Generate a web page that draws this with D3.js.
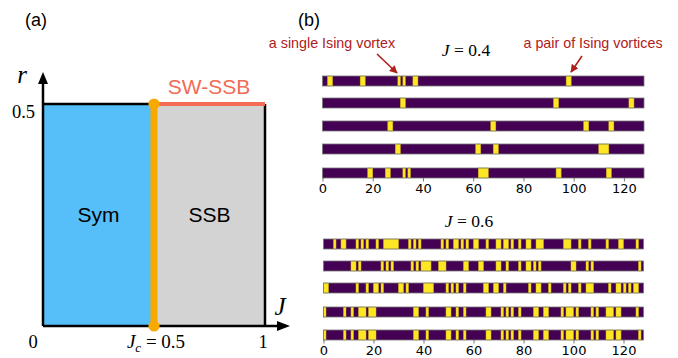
<!DOCTYPE html>
<html>
<head>
<meta charset="utf-8">
<script src="https://cdn.jsdelivr.net/npm/d3@7"></script>
<style>
  body { margin: 0; background: #fff; }
  svg { display: block; }
</style>
</head>
<body>
<svg id="chart" width="678" height="358"></svg>
<script>
// panel (a) phase diagram
const phases = [
  { name: 'Sym', j0: 0, j1: 0.5, color: '#56BEF8' },
  { name: 'SSB', j0: 0.5, j1: 1, color: '#D3D3D3' },
];
const rMax = 0.5;
const jc = 0.5;

// panel (b) yellow sites per chain, L = 128
const L = 128;
const xTicks = [0, 20, 40, 60, 80, 100, 120];
const chainsJ04 = [
  [2, 3, 15, 16, 30, 32, 36, 37, 97, 98],
  [31, 32, 92, 93, 122, 123],
  [26, 27, 67, 68, 104, 105, 114, 115],
  [29, 30, 61, 62, 68, 69, 110, 111, 112, 113],
  [18, 19, 25, 26, 32, 34, 62, 63, 64, 65, 93, 94, 113, 114],
];
const chainsJ06 = [
  [4, 7, 8, 13, 15, 17, 21, 24, 25, 26, 27, 28, 29, 34, 36, 38, 47, 49, 52, 53, 55, 57, 60, 61, 65, 69, 70, 72, 73, 75, 78, 81, 82, 85, 86, 87, 96, 97, 98, 102, 106, 113, 118, 119, 125],
  [11, 12, 14, 23, 25, 27, 35, 37, 39, 40, 41, 42, 46, 47, 48, 56, 57, 62, 63, 69, 70, 73, 78, 81, 82, 84, 86, 99, 100, 105, 107, 126],
  [0, 1, 13, 17, 20, 21, 23, 30, 31, 33, 40, 41, 42, 43, 49, 51, 53, 56, 64, 65, 68, 69, 72, 82, 85, 86, 90, 96, 98, 102, 105, 106, 107, 114, 117, 118, 120, 122, 124, 125],
  [0, 8, 11, 14, 15, 16, 18, 19, 20, 36, 37, 41, 49, 50, 53, 56, 65, 66, 71, 73, 75, 78, 84, 85, 88, 89, 95, 97, 98, 99, 101, 107, 109, 113, 114, 115, 117, 118, 125],
  [0, 8, 11, 14, 15, 16, 18, 19, 20, 36, 37, 41, 49, 50, 53, 56, 65, 66, 71, 73, 75, 78, 84, 85, 88, 89, 95, 97, 98, 99, 101, 107, 109, 113, 114, 115, 117, 118, 126],
];

const svg = d3.select('#chart');
const sans = '"Liberation Sans", Arial, sans-serif';
const serif = '"Liberation Serif", "Times New Roman", serif';

// ---------- (a) ----------
const xJ = d3.scaleLinear().domain([0, 1]).range([43, 265]);
const yR = d3.scaleLinear().domain([0, rMax]).range([326, 104]);
const a = svg.append('g');

a.selectAll('rect.phase')
  .data(phases)
  .enter()
  .append('rect')
  .attr('x', d => xJ(d.j0))
  .attr('y', yR(rMax))
  .attr('width', d => xJ(d.j1) - xJ(d.j0))
  .attr('height', yR(0) - yR(rMax))
  .attr('fill', d => d.color);

a.selectAll('text.phase')
  .data(phases)
  .enter()
  .append('text')
  .attr('x', d => xJ((d.j0 + d.j1) / 2))
  .attr('y', 222)
  .attr('text-anchor', 'middle')
  .attr('font-family', sans)
  .attr('font-size', 21)
  .text(d => d.name);

// box + axes
const black = (x1, y1, x2, y2) =>
  a.append('line')
    .attr('x1', x1).attr('y1', y1).attr('x2', x2).attr('y2', y2)
    .attr('stroke', '#000').attr('stroke-width', 2.5);
black(xJ(0), yR(0), xJ(0), 82);
black(xJ(0), yR(0), 279, yR(0));
black(xJ(0), yR(rMax), xJ(jc), yR(rMax));
black(xJ(1), yR(0), xJ(1), yR(rMax));
a.append('path').attr('d', `M${xJ(0)},72 L${xJ(0) - 5},84 L${xJ(0) + 5},84 Z`).attr('fill', '#000');
a.append('path').attr('d', `M290,${yR(0)} L277,${yR(0) - 5} L277,${yR(0) + 5} Z`).attr('fill', '#000');

// SW-SSB line and critical line
a.append('line')
  .attr('x1', xJ(jc)).attr('x2', xJ(1))
  .attr('y1', yR(rMax)).attr('y2', yR(rMax))
  .attr('stroke', '#F26B55').attr('stroke-width', 4);
a.append('line')
  .attr('x1', xJ(jc)).attr('x2', xJ(jc))
  .attr('y1', yR(0)).attr('y2', yR(rMax))
  .attr('stroke', '#F7A900').attr('stroke-width', 7);
a.selectAll('circle')
  .data([0, rMax])
  .enter()
  .append('circle')
  .attr('cx', xJ(jc))
  .attr('cy', d => yR(d))
  .attr('r', 5.6)
  .attr('fill', '#F7A900');

a.append('text').attr('x', 209).attr('y', 94).attr('text-anchor', 'middle')
  .attr('font-family', sans).attr('font-size', 21).attr('fill', '#F26B55').text('SW-SSB');

// labels
a.append('text').attr('x', 36).attr('y', 26).attr('text-anchor', 'middle')
  .attr('font-family', sans).attr('font-size', 18).text('(a)');
a.append('text').attr('x', 22).attr('y', 83).attr('text-anchor', 'middle')
  .attr('font-family', serif).attr('font-style', 'italic').attr('font-size', 25).text('r');
a.append('text').attr('x', 280).attr('y', 315).attr('text-anchor', 'middle')
  .attr('font-family', serif).attr('font-style', 'italic').attr('font-size', 25).text('J');
a.append('text').attr('x', 35).attr('y', 118).attr('text-anchor', 'end')
  .attr('font-family', serif).attr('font-size', 18.5).text('0.5');
a.append('text').attr('x', 33).attr('y', 348).attr('text-anchor', 'middle')
  .attr('font-family', serif).attr('font-size', 18.5).text('0');
a.append('text').attr('x', xJ(1) - 2).attr('y', 348).attr('text-anchor', 'middle')
  .attr('font-family', serif).attr('font-size', 18.5).text('1');
const jcText = a.append('text').attr('x', xJ(jc) + 2).attr('y', 348).attr('text-anchor', 'middle')
  .attr('font-family', serif).attr('font-size', 19);
jcText.append('tspan').attr('font-style', 'italic').text('J');
jcText.append('tspan').attr('font-style', 'italic').attr('font-size', 13).attr('dy', 4).text('c');
jcText.append('tspan').attr('dy', -4).text(' = 0.5');

// ---------- (b) ----------
const b = svg.append('g');
b.append('text').attr('x', 309).attr('y', 26).attr('text-anchor', 'middle')
  .attr('font-family', sans).attr('font-size', 18).text('(b)');

// group neighbouring yellow sites so adjacent cells draw as one block
function toRuns(sites) {
  const runs = [];
  sites.forEach(s => {
    const last = runs[runs.length - 1];
    if (last && last[1] === s) last[1] = s + 1;
    else runs.push([s, s + 1]);
  });
  return runs;
}

function drawGroup(chains, rowsY, x0, x1, title, titleY) {
  const x = d3.scaleLinear().domain([0, L]).range([x0, x1]);
  const g = b.append('g');
  chains.forEach((sites, k) => {
    const y = rowsY[k];
    const row = g.append('g');
    row.append('rect')
      .attr('x', x(0)).attr('y', y)
      .attr('width', x(L) - x(0)).attr('height', 10)
      .attr('fill', '#440154');
    row.selectAll('rect.site')
      .data(toRuns(sites))
      .enter()
      .append('rect')
      .attr('x', d => x(d[0]))
      .attr('y', y)
      .attr('width', d => x(d[1]) - x(d[0]))
      .attr('height', 10)
      .attr('fill', '#FDE725')
      .attr('stroke', '#D2B416')
      .attr('stroke-width', 0.5);
    row.append('rect')
      .attr('x', x(0)).attr('y', y)
      .attr('width', x(L) - x(0)).attr('height', 10)
      .attr('fill', 'none').attr('stroke', '#777').attr('stroke-width', 0.8);
  });
  const last = rowsY[rowsY.length - 1] + 10;
  const axis = d3.axisBottom(x).tickValues(xTicks).tickSize(3.5).tickPadding(2);
  const ax = g.append('g').attr('transform', `translate(0,${last})`).call(axis);
  ax.select('.domain').remove();
  ax.selectAll('line').attr('stroke', '#555').attr('stroke-width', 0.8);
  ax.selectAll('text').attr('font-family', '"DejaVu Sans", sans-serif').attr('font-size', 13).attr('fill', '#000');

  const t = g.append('text').attr('x', title.x).attr('y', titleY).attr('text-anchor', 'middle')
    .attr('font-family', serif).attr('font-size', 17.5);
  t.append('tspan').attr('font-style', 'italic').text('J');
  t.append('tspan').text(' = ' + title.v);
}

drawGroup(chainsJ04, [76, 98, 121, 144, 168], 322.5, 644, { x: 466, v: '0.4' }, 56);
drawGroup(chainsJ06, [239, 261, 283, 307, 330], 323.5, 643.5, { x: 469, v: '0.6' }, 227);

// annotations
const red = '#B0201B';
const defs = svg.append('defs');
defs.append('marker')
  .attr('id', 'head').attr('viewBox', '0 0 10 10')
  .attr('refX', 9).attr('refY', 5)
  .attr('markerWidth', 5).attr('markerHeight', 5)
  .attr('orient', 'auto')
  .append('path').attr('d', 'M0,0 L10,5 L0,10 Z').attr('fill', red);

const notes = [
  { text: 'a single Ising vortex', x: 332, y: 48, from: [377, 54], to: [397, 73] },
  { text: 'a pair of Ising vortices', x: 593, y: 48, from: [582, 56], to: [571, 72] },
];
b.selectAll('text.note')
  .data(notes)
  .enter()
  .append('text')
  .attr('x', d => d.x).attr('y', d => d.y)
  .attr('text-anchor', 'middle')
  .attr('font-family', sans).attr('font-size', 14.3)
  .attr('fill', red)
  .text(d => d.text);
b.selectAll('line.note')
  .data(notes)
  .enter()
  .append('line')
  .attr('x1', d => d.from[0]).attr('y1', d => d.from[1])
  .attr('x2', d => d.to[0]).attr('y2', d => d.to[1])
  .attr('stroke', red).attr('stroke-width', 1.6)
  .attr('marker-end', 'url(#head)');
</script>
</body>
</html>
